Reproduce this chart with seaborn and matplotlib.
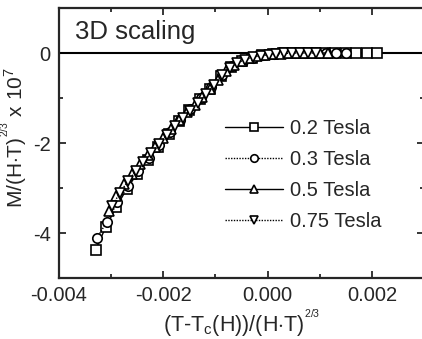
import matplotlib
matplotlib.use("Agg")
import matplotlib.pyplot as plt
import seaborn as sns
import numpy as np
from matplotlib.ticker import MultipleLocator, FormatStrFormatter

# scaled variable (T-Tc(H))/(H*T)^(2/3), in units of 1e-3
x_02 = [-3.3, -3.1, -2.9, -2.7, -2.5, -2.3, -2.1, -1.9, -1.7, -1.5, -1.3, -1.1, -0.9, -0.7,
        -0.5, -0.3, -0.1, 0.1, 0.3, 0.5, 0.7, 0.9, 1.1, 1.3, 1.5, 1.7, 1.9, 2.1]
y_02 = [-4.38, -3.86, -3.42, -3.02, -2.68, -2.38, -2.09, -1.80, -1.52, -1.27, -1.03, -0.79, -0.52, -0.31,
        -0.18, -0.10, -0.05, -0.03, -0.01, 0.0, 0.0, 0.0, 0.0, 0.0, 0.0, 0.0, 0.0, 0.0]

x_03 = [-3.28, -3.08, -2.88, -2.68, -2.48, -2.28, -2.08, -1.88, -1.68, -1.48, -1.28, -1.08, -0.88,
        -0.68, -0.48, -0.28, -0.08, 0.12, 0.32, 0.52, 0.72, 0.92, 1.12, 1.32, 1.5]
y_03 = [-4.12, -3.75, -3.32, -2.96, -2.62, -2.33, -2.05, -1.76, -1.49, -1.24, -1.00, -0.76, -0.49,
        -0.29, -0.17, -0.10, -0.05, -0.02, -0.01, 0.0, 0.0, 0.0, 0.0, 0.0, 0.0]

x_05 = [-3.05, -2.9, -2.75, -2.6, -2.45, -2.3, -2.15, -2.0, -1.85, -1.7, -1.55, -1.4, -1.25, -1.1, -0.95,
        -0.8, -0.65, -0.5, -0.35, -0.2, -0.05, 0.1, 0.25, 0.4, 0.55, 0.7, 0.85, 1.0, 1.15]
y_05 = [-3.50, -3.18, -2.90, -2.68, -2.47, -2.27, -2.08, -1.88, -1.68, -1.49, -1.32, -1.15, -0.98, -0.80, -0.60,
        -0.40, -0.27, -0.18, -0.11, -0.07, -0.04, -0.03, -0.02, -0.01, 0.0, 0.0, 0.0, 0.0, 0.0]

x_075 = [-2.98, -2.83, -2.68, -2.53, -2.38, -2.23, -2.08, -1.93, -1.78, -1.63, -1.48, -1.33, -1.18, -1.03,
         -0.88, -0.73, -0.58, -0.43, -0.28, -0.13, 0.02, 0.17, 0.32, 0.47, 0.62, 0.77, 0.92]
y_075 = [-3.40, -3.10, -2.85, -2.63, -2.43, -2.23, -2.03, -1.83, -1.63, -1.45, -1.28, -1.10, -0.92, -0.72,
         -0.48, -0.33, -0.22, -0.15, -0.09, -0.06, -0.04, -0.02, -0.01, 0.0, 0.0, 0.0, 0.0]

labels = ["0.2 Tesla", "0.3 Tesla", "0.5 Tesla", "0.75 Tesla"]

sns.set_style("ticks")
plt.rcParams["font.family"] = ["Liberation Sans", "DejaVu Sans"]
plt.rcParams["axes.unicode_minus"] = False
plt.rcParams["mathtext.fontset"] = "custom"
plt.rcParams["mathtext.rm"] = "Liberation Sans"
plt.rcParams["mathtext.it"] = "Liberation Sans"

fig = plt.figure(figsize=(4.22, 3.39), dpi=100)
ax = fig.add_axes([59 / 422, 1 - 278 / 339, 365 / 422, 270 / 339])

ax.axhline(0, color="black", lw=1.5, zorder=1)

series = [(x_02, y_02, "s", "-"), (x_03, y_03, "o", (0, (1, 1))),
          (x_05, y_05, "^", "-"), (x_075, y_075, "v", (0, (1, 1)))]
for (xs, ys, m, ls), lab in zip(series, labels):
    sns.lineplot(x=np.array(xs) * 1e-3, y=ys, ax=ax, sort=False, color="black",
                 marker=m, markersize=6.8, markerfacecolor="white", markeredgecolor="black",
                 markeredgewidth=1.2, linestyle=ls, linewidth=1.0, label=lab, zorder=3)

ax.set_xlim(-0.004, 0.003)
ax.set_ylim(-5, 1)
ax.xaxis.set_major_locator(MultipleLocator(0.002))
ax.xaxis.set_minor_locator(MultipleLocator(0.001))
ax.xaxis.set_major_formatter(FormatStrFormatter("%.3f"))
ax.yaxis.set_major_locator(MultipleLocator(2))
ax.yaxis.set_minor_locator(MultipleLocator(1))
ax.yaxis.set_major_formatter(FormatStrFormatter("%d"))
ax.tick_params(which="both", direction="in", top=True, right=True, width=1.3, labelsize=14.5)
ax.tick_params(which="major", length=5, pad=6)
ax.tick_params(which="minor", length=3)
for s in ax.spines.values():
    s.set_linewidth(1.6)

ax.set_xlabel(r"(T-T$_{\rm c}$(H))/(H$\cdot$T)$^{^{2/3}}$", fontsize=15.5)
ax.xaxis.set_label_coords(0.5, -0.11)
ax.set_ylabel(r"M/(H$\cdot$T)$^{^{2/3}}$ x 10$^{7}$", fontsize=15)
ax.yaxis.set_label_coords(-0.082, 0.52)

ax.text(0.044, 0.955, "3D scaling", transform=ax.transAxes, fontsize=18.5, va="top", ha="left")

leg = ax.legend(loc="upper left", bbox_to_anchor=(0.455, 0.588), frameon=False, fontsize=14.5,
                handlelength=2.9, handletextpad=0.3, labelspacing=0.6, borderpad=0,
                borderaxespad=0, markerscale=0.8)

fig.savefig("out.png", dpi=100)
